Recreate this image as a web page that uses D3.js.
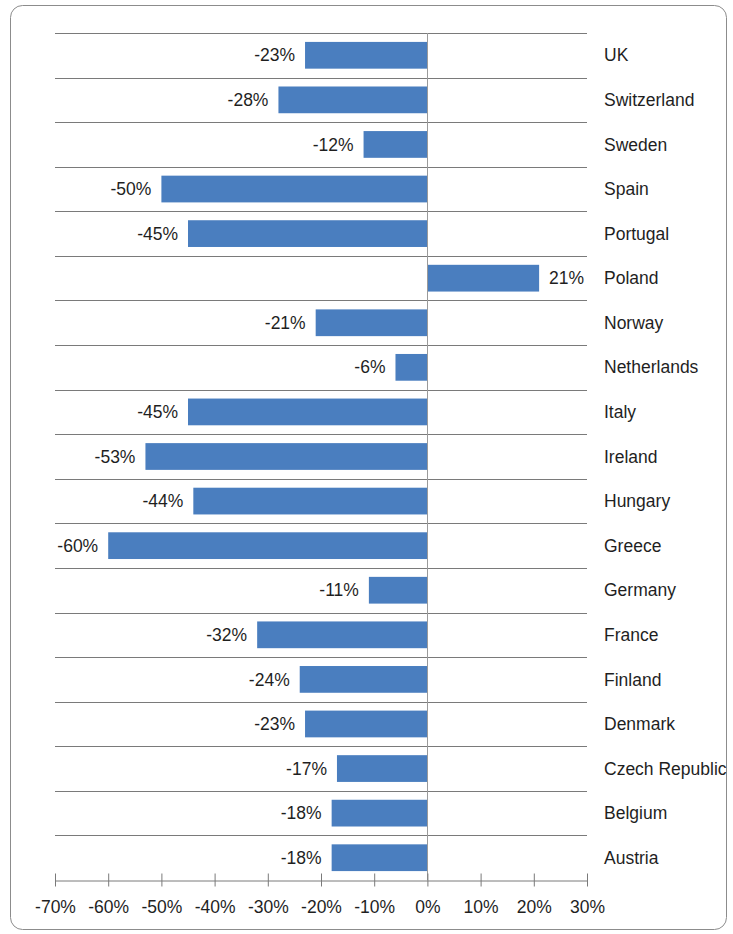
<!DOCTYPE html>
<html>
<head>
<meta charset="utf-8">
<script src="https://cdn.jsdelivr.net/npm/d3@7"></script>
<style>
  html, body { margin: 0; padding: 0; background: #fff; }
  svg text { font-family: "Liberation Sans", Arial, sans-serif; fill: #1f1f1f; }
</style>
</head>
<body>
<svg id="chart" width="733" height="934"></svg>
<script>
// Countries, top to bottom
const countries = ["UK", "Switzerland", "Sweden", "Spain", "Portugal", "Poland", "Norway",
  "Netherlands", "Italy", "Ireland", "Hungary", "Greece", "Germany", "France", "Finland",
  "Denmark", "Czech Republic", "Belgium", "Austria"];
// Percentage change per country
const changes = [-23, -28, -12, -50, -45, 21, -21, -6, -45, -53, -44, -60, -11, -32, -24, -23, -17, -18, -18];
// Horizontal axis ticks (percent)
const xTicks = [-70, -60, -50, -40, -30, -20, -10, 0, 10, 20, 30];

const svg = d3.select("#chart");
const fontSize = 17.5;

// Outer frame
svg.append("rect")
  .attr("x", 10.5).attr("y", 5.5)
  .attr("width", 716).attr("height", 924)
  .attr("rx", 12).attr("ry", 12)
  .attr("fill", "#fff").attr("stroke", "#8c8c8c").attr("stroke-width", 1);

const plot = { left: 55, right: 587, top: 33, bottom: 880 };

const x = d3.scaleLinear().domain([-70, 30]).range([plot.left, plot.right]);
const y = d3.scaleBand().domain(countries).range([plot.top, plot.bottom]).paddingInner(0.4).paddingOuter(0.2);
const band = d3.scaleBand().domain(countries).range([plot.top, plot.bottom]);

// Horizontal gridlines between categories
const gridYs = countries.map(c => band(c));
svg.append("g").selectAll("line").data(gridYs).join("line")
  .attr("x1", plot.left).attr("x2", plot.right)
  .attr("y1", d => Math.round(d) + 0.5).attr("y2", d => Math.round(d) + 0.5)
  .attr("stroke", "#7a7a7a").attr("stroke-width", 1);

// Bars
svg.append("g").selectAll("rect").data(countries).join("rect")
  .attr("x", (c, i) => x(Math.min(0, changes[i])))
  .attr("width", (c, i) => Math.abs(x(changes[i]) - x(0)))
  .attr("y", c => y(c))
  .attr("height", y.bandwidth())
  .attr("fill", "#4a7ebf");

// Zero line
svg.append("line")
  .attr("x1", Math.round(x(0)) + 0.5).attr("x2", Math.round(x(0)) + 0.5)
  .attr("y1", plot.top).attr("y2", plot.bottom)
  .attr("stroke", "#9a9a9a").attr("stroke-width", 1);

// Value labels at the bar ends
svg.append("g").selectAll("text").data(countries).join("text")
  .attr("x", (c, i) => changes[i] < 0 ? x(changes[i]) - 10 : x(changes[i]) + 10)
  .attr("y", c => band(c) + band.bandwidth() / 2)
  .attr("dy", "0.35em")
  .attr("text-anchor", (c, i) => changes[i] < 0 ? "end" : "start")
  .attr("font-size", fontSize)
  .text((c, i) => changes[i] + "%");

// Category labels on the right
svg.append("g").selectAll("text").data(countries).join("text")
  .attr("x", 604)
  .attr("y", c => band(c) + band.bandwidth() / 2)
  .attr("dy", "0.35em")
  .attr("font-size", fontSize)
  .text(c => c);

// Bottom axis
const axis = d3.axisBottom(x).tickValues(xTicks).tickFormat(d => d + "%").tickSize(6).tickSizeOuter(0);
const gAxis = svg.append("g").attr("transform", `translate(0,${plot.bottom + 0.5})`).call(axis);
gAxis.select(".domain").attr("stroke", "#7a7a7a");
gAxis.selectAll(".tick line").attr("stroke", "#7a7a7a").attr("y1", -7);
gAxis.selectAll(".tick text").attr("font-size", fontSize).attr("y", 26).attr("dy", "0.35em")
  .style("font-family", "'Liberation Sans', Arial, sans-serif").attr("fill", "#1f1f1f");
</script>
</body>
</html>
